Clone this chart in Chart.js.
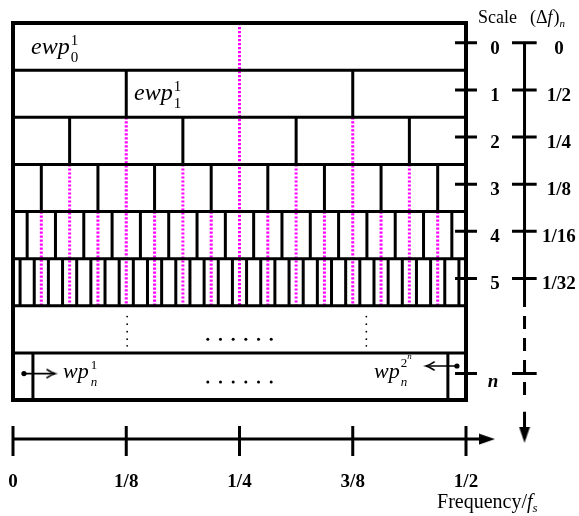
<!DOCTYPE html>
<html>
<head>
<meta charset="utf-8">
<script src="https://cdn.jsdelivr.net/npm/chart.js@4.4.0/dist/chart.umd.min.js"></script>
<style>
  html, body { margin: 0; padding: 0; background: #fff; }
  canvas { display: block; }
</style>
</head>
<body>
<canvas id="grafico" width="579" height="516"></canvas>
<script>
// filas de la descomposicion: escalas 0..5, luego la fila "..." (6) y la fila n (7)
const filas = [0, 1, 2, 3, 4, 5];
const etiquetasEscala = ['0', '1', '2', '3', '4', '5'];
const etiquetasDelta = ['0', '1/2', '1/4', '1/8', '1/16', '1/32'];
const anchoPaquete = [1/2, 1/4, 1/8, 1/16, 1/32, 1/64]; // ancho de cada paquete en cada escala
const freqTicks = [0, 1/8, 1/4, 3/8, 1/2];
const freqEtiquetas = ['0', '1/8', '1/4', '3/8', '1/2'];
const bordesFilaN = [0.022, 0.48];
const puntosVerticalesX = [0.126, 0.39];
const puntosVerticalesY = [6.23, 6.39, 6.55, 6.71, 6.85];
const puntosHorizontalesX = [0.215, 0.229, 0.243, 0.257, 0.271, 0.285];

const FUENTE = '"Liberation Serif", "Times New Roman", serif';
const it = s => `italic ${s}px ${FUENTE}`;
const rm = s => `${s}px ${FUENTE}`;
const bf = s => `bold ${s}px ${FUENTE}`;

// la caja va de f=0 a f=1/2 y de la fila 0 a la 8; el area del grafico ocupa todo el canvas
const ANCHO = 579, ALTO = 516;
const caja = { izq: 13, der: 466, sup: 23, inf: 400 };
const pxPorF = (caja.der - caja.izq) / 0.5;
const pxPorFila = (caja.inf - caja.sup) / 8;
const limX = { min: -caja.izq / pxPorF, max: (ANCHO - caja.izq) / pxPorF };
const limY = { min: -caja.sup / pxPorFila, max: (ALTO - caja.sup) / pxPorFila };

const marcaFila = k => k + 0.42;   // altura de la marca de cada escala
const marcaN = 7.44;
const ejeEscalaX = 0.5646;
const ejeFreqY = 8.83;

// convierte una lista de polilineas en un solo arreglo con cortes (null)
function tramos(lista) {
    const datos = [];
    lista.forEach((poli, i) => {
        if (i > 0) datos.push({x: null, y: null});
        poli.forEach(p => datos.push({x: p[0], y: p[1]}));
    });
    return datos;
}

// separadores horizontales entre filas
const separadores = [];
for (let f = 1; f <= 7; f++) separadores.push([[0, f], [0.5, f]]);

// divisiones entre paquetes (desplazadas medio paquete)
const divisiones = [];
filas.forEach(k => {
    if (k === 0) return;
    const w = anchoPaquete[k];
    for (let x = w / 2; x < 0.5; x += w) divisiones.push([[x, k], [x, k + 1]]);
});
bordesFilaN.forEach(x => divisiones.push([[x, 7], [x, 8]]));

// lineas magenta en el centro de cada paquete, desde la escala donde aparecen
const lineasMagenta = [];
const vistos = new Set();
filas.slice(0, 5).forEach(k => {
    const w = anchoPaquete[k];
    const centros = [];
    if (k === 0) centros.push(w / 2);
    else for (let x = w; x < 0.5; x += w) centros.push(x);
    centros.forEach(c => {
        if (!vistos.has(c)) { vistos.add(c); lineasMagenta.push([[c, k], [c, 6]]); }
    });
});

// marcas a la derecha de la caja y del eje de (delta f)
const alturasMarca = filas.map(marcaFila).concat([marcaN]);
const marcasCaja = alturasMarca.map(y => [[0.4879, y], [0.5121, y]]);
const marcasEscala = alturasMarca.map(y => [[0.5508, y], [0.578, y]]);
const marcasFreq = freqTicks.map(f => [[f, 8.55], [f, 9.19]]);

// puntas de flecha como imagenes para pointStyle (la punta queda en el centro)
function puntaLlena() {
    const c = document.createElement('canvas');
    c.width = 32; c.height = 12;
    const g = c.getContext('2d');
    g.fillStyle = '#000';
    g.beginPath(); g.moveTo(0, 0.5); g.lineTo(16, 6); g.lineTo(0, 11.5); g.closePath(); g.fill();
    return c;
}
function puntaAbierta() {
    const c = document.createElement('canvas');
    c.width = 20; c.height = 12;
    const g = c.getContext('2d');
    g.strokeStyle = '#000'; g.lineWidth = 1.6; g.lineCap = 'round';
    g.beginPath(); g.moveTo(2, 2); g.quadraticCurveTo(7, 5.2, 10, 6); g.quadraticCurveTo(7, 6.8, 2, 10); g.stroke();
    return c;
}

function linea(datos, ancho, extra) {
    return Object.assign({
        type: 'line', data: tramos(datos), borderColor: '#000', borderWidth: ancho,
        pointRadius: 0, tension: 0, fill: false, clip: false, spanGaps: false
    }, extra || {});
}
function puntos(lista, radio, extra) {
    return Object.assign({
        type: 'line', data: lista.map(p => ({x: p[0], y: p[1]})), showLine: false,
        pointRadius: radio, pointBackgroundColor: '#000', pointBorderWidth: 0, clip: false
    }, extra || {});
}

const datasets = [
    // caja exterior
    linea([[[0.25, 0], [0.5, 0], [0.5, 8], [0, 8], [0, 0], [0.25, 0]]], 4, {borderJoinStyle: 'miter'}),
    linea(separadores, 3),
    linea(divisiones, 3),
    linea(marcasCaja, 3),
    // eje de escalas (delta f)
    linea([[[ejeEscalaX, marcaFila(0)], [ejeEscalaX, 5.75]]], 3),
    linea([[[ejeEscalaX, 5.75], [ejeEscalaX, 8.0]]], 3, {borderDash: [13, 9]}),
    linea([[[ejeEscalaX, 8.25], [ejeEscalaX, 8.8]]], 3),
    linea(marcasEscala, 3),
    // eje de frecuencia
    linea([[[0, ejeFreqY], [0.525, ejeFreqY]]], 3),
    linea(marcasFreq, 3),
    puntos([[0.532, ejeFreqY]], 8, {pointStyle: puntaLlena(), pointRotation: 0}),
    puntos([[ejeEscalaX, 8.91]], 8, {pointStyle: puntaLlena(), pointRotation: 90}),
    // flechas de la fila n
    linea([[[0.0121, marcaN], [0.0464, marcaN]], [[0.490, 7.279], [0.456, 7.279]]], 1.6),
    puntos([[0.0464, marcaN]], 6, {pointStyle: puntaAbierta(), pointRotation: 0}),
    puntos([[0.456, 7.279]], 6, {pointStyle: puntaAbierta(), pointRotation: 180}),
    puntos([[0.0121, marcaN], [0.490, 7.279]], 2.6),
    // puntos suspensivos
    puntos(puntosVerticalesX.flatMap(x => puntosVerticalesY.map(y => [x, y])), 0.9),
    puntos(puntosHorizontalesX.flatMap(x => [[x, 6.71], [x, 7.62]]), 1.5),
    // centros de paquetes
    linea(lineasMagenta, 3, {borderColor: '#ff00ff', borderDash: [2.2, 1.8]})
];

// texto con sub/superindices: cada parte sigue a la anterior o se apila en su mismo x
function escribir(ctx, x, y, partes, centrado) {
    const inicios = [];
    let previo = 0, fin = 0;
    partes.forEach(p => {
        ctx.font = p.f;
        const w = ctx.measureText(p.t).width;
        const inicio = p.mismoX ? previo : fin + (p.dx || 0);
        inicios.push(inicio);
        previo = inicio;
        fin = Math.max(fin, inicio + w);
    });
    const corrimiento = centrado ? -fin / 2 : 0;
    partes.forEach((p, i) => {
        ctx.font = p.f;
        ctx.fillText(p.t, x + corrimiento + inicios[i], y + (p.dy || 0));
    });
}

const textos = {
    id: 'textos',
    afterDatasetsDraw(chart) {
        const ctx = chart.ctx;
        const sx = chart.scales.x, sy = chart.scales.y;
        const px = v => sx.getPixelForValue(v), py = v => sy.getPixelForValue(v);
        ctx.save();
        ctx.fillStyle = '#000';
        ctx.textBaseline = 'alphabetic';
        ctx.textAlign = 'left';

        escribir(ctx, px(0.0199), py(0.658), [
            {t: 'ewp', f: it(24)}, {t: '1', f: rm(15), dx: 1, dy: -9}, {t: '0', f: rm(15), mismoX: true, dy: 8}]);
        escribir(ctx, px(0.1336), py(1.634), [
            {t: 'ewp', f: it(24)}, {t: '1', f: rm(15), dx: 1, dy: -9}, {t: '1', f: rm(15), mismoX: true, dy: 8}]);
        escribir(ctx, px(0.0552), py(7.533), [
            {t: 'wp', f: it(22)}, {t: '1', f: rm(13), dx: 2, dy: -9}, {t: 'n', f: it(13), mismoX: true, dy: 8}]);
        escribir(ctx, px(0.3985), py(7.533), [
            {t: 'wp', f: it(22)}, {t: 'n', f: it(13), dx: 1, dy: 8}, {t: '2', f: rm(13), mismoX: true, dy: -11},
            {t: 'n', f: it(9), dx: 0, dy: -19}]);

        // etiquetas de escala y de (delta f)
        filas.forEach(k => {
            escribir(ctx, px(0.532), py(k + 0.653), [{t: etiquetasEscala[k], f: bf(19)}], true);
            escribir(ctx, px(0.6026), py(k + 0.653), [{t: etiquetasDelta[k], f: bf(19)}], true);
        });
        escribir(ctx, px(0.5298), py(7.724), [{t: 'n', f: 'italic ' + bf(19)}], true);

        // encabezado
        escribir(ctx, px(0.5132), py(0), [{t: 'Scale', f: rm(18)}]);
        escribir(ctx, px(0.5706), py(0), [
            {t: '(\u0394', f: rm(18)}, {t: 'f', f: it(18)}, {t: ')', f: rm(18), dx: 1}, {t: 'n', f: it(11), dy: 4}]);

        // eje de frecuencia
        freqTicks.forEach((f, i) => {
            escribir(ctx, px(f), py(9.846), [{t: freqEtiquetas[i], f: bf(19)}], true);
        });
        escribir(ctx, px(0.468), py(10.29), [
            {t: 'Frequency/', f: rm(20)}, {t: 'f', f: it(20)}, {t: 's', f: it(13), dy: 4}]);
        ctx.restore();
    }
};

new Chart(document.getElementById('grafico'), {
    type: 'line',
    data: { datasets: datasets },
    options: {
        responsive: false,
        animation: false,
        devicePixelRatio: 1,
        events: [],
        layout: { padding: 0, autoPadding: false },
        scales: {
            x: { type: 'linear', display: false, min: limX.min, max: limX.max },
            y: { type: 'linear', display: false, min: limY.min, max: limY.max, reverse: true }
        },
        plugins: { legend: { display: false }, tooltip: { enabled: false } }
    },
    plugins: [textos]
});
</script>
</body>
</html>
